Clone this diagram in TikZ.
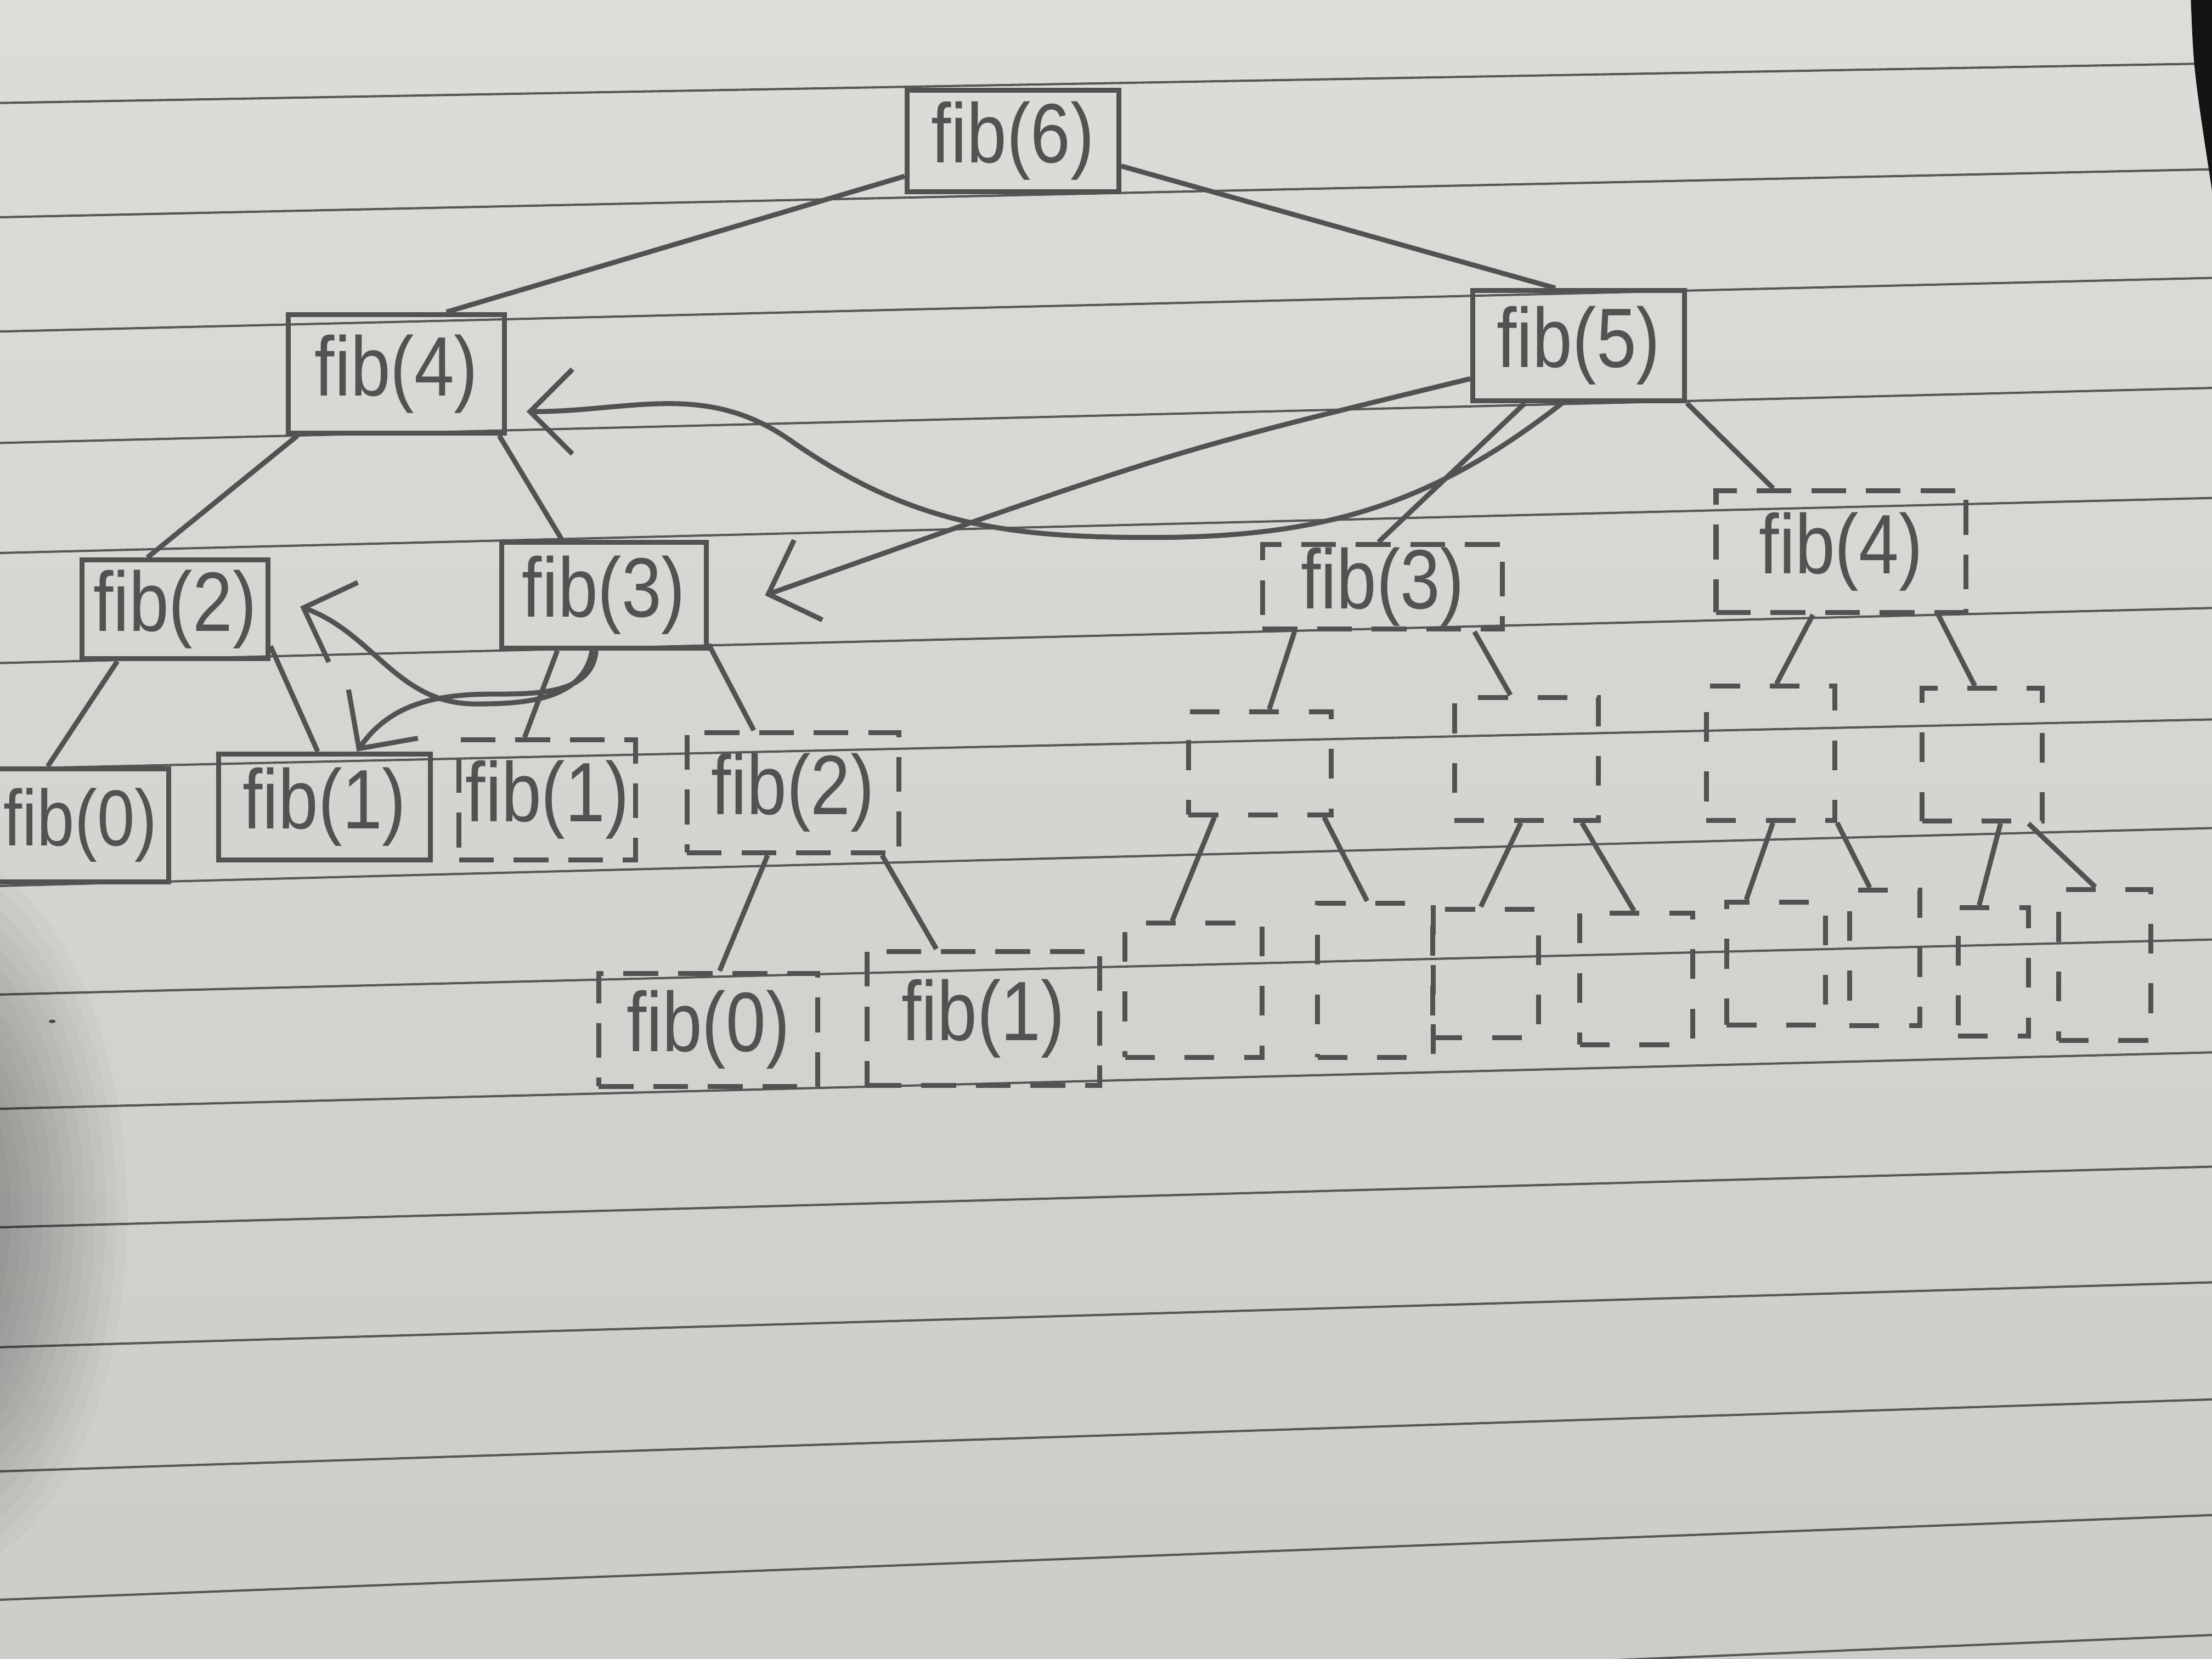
\documentclass[tikz,border=0pt]{standalone}
\usepackage{fontspec}
\setmainfont{Liberation Sans}[FakeStretch=0.85]
\usetikzlibrary{arrows.meta,calc}
\definecolor{papertop}{HTML}{DEDCD8}
\definecolor{paperbot}{HTML}{CECCC9}
\definecolor{rulecol}{HTML}{575757}
\definecolor{pencil}{HTML}{525252}
\tikzset{
  solidbox/.style={draw=pencil, line width=1pt, rectangle, inner sep=0pt, text=pencil,
    font=\fontsize{17}{19}\selectfont},
  dashbox/.style={solidbox, dash pattern=on 7pt off 4pt},
  emptybox/.style={draw=pencil, line width=1pt, rectangle, inner sep=0pt, dash pattern=on 6pt off 6pt},
  treeline/.style={draw=pencil, line width=1pt},
  callarrow/.style={draw=pencil, line width=1pt, -{Straight Barb[length=3mm,width=6mm,line width=1pt]}},
  ruled/.style={draw=rulecol, line width=0.45pt},
}
\begin{document}
\begin{tikzpicture}[x=0.01cm,y=-0.01cm]
\useasboundingbox (0,0) rectangle (1568,1176);
\begin{scope}
\clip (0,0) rectangle (1568,1176);
\shade[top color=papertop, bottom color=paperbot] (0,0) rectangle (1568,1176);
\foreach \l/\r in {73/45,154/120,235/197,314/275,392/353,470/431,545/510,628/587,705/666,786/746,870/827,955/909,1043/992,1134/1074,1225/1159}
  \draw[ruled] (0,\l) -- (1568,\r);
\fill[black!92] (1553,0) .. controls (1555,50) .. (1568,135) -- (1568,0) -- cycle;
\end{scope}

% solid boxes
\node[solidbox, minimum width=1.50cm, minimum height=0.72cm] (f6) at (718,100) {fib(6)};
\node[solidbox, minimum width=1.50cm, minimum height=0.78cm] (f5) at (1119,245) {fib(5)};
\node[solidbox, minimum width=1.53cm, minimum height=0.84cm] (f4) at (281,265) {fib(4)};
\node[solidbox, minimum width=1.32cm, minimum height=0.70cm] (f2a) at (124,432) {fib(2)};
\node[solidbox, minimum width=1.45cm, minimum height=0.75cm] (f3a) at (428,422) {fib(3)};
\node[solidbox, minimum width=1.25cm, minimum height=0.80cm, font=\fontsize{16}{18}\selectfont] (f0a) at (57,585) {fib(0)};
\node[solidbox, minimum width=1.50cm, minimum height=0.75cm] (f1a) at (230,572) {fib(1)};
% dashed boxes with text
\node[dashbox, minimum width=1.25cm, minimum height=0.85cm] (f1b) at (388,567) {fib(1)};
\node[dashbox, minimum width=1.50cm, minimum height=0.85cm] (f2b) at (562,562) {fib(2)};
\node[dashbox, minimum width=1.55cm, minimum height=0.80cm] (f0b) at (502,730) {fib(0)};
\node[dashbox, minimum width=1.65cm, minimum height=0.95cm] (f1c) at (697,722) {fib(1)};
\node[dashbox, minimum width=1.70cm, minimum height=0.60cm] (f3b) at (980,416) {fib(3)};
\node[dashbox, minimum width=1.77cm, minimum height=0.86cm] (f4b) at (1305,391) {fib(4)};
% empty dashed boxes
\node[emptybox, minimum width=1.01cm, minimum height=0.73cm] (B1) at (893,541) {};
\node[emptybox, minimum width=1.02cm, minimum height=0.87cm] (B2) at (1082,538) {};
\node[emptybox, minimum width=0.91cm, minimum height=0.95cm] (B3) at (1255,534) {};
\node[emptybox, minimum width=0.85cm, minimum height=0.94cm] (B4) at (1405,535) {};
\node[emptybox, minimum width=0.97cm, minimum height=0.95cm] (C1) at (846,702) {};
\node[emptybox, minimum width=0.82cm, minimum height=1.09cm] (C2) at (975,695) {};
\node[emptybox, minimum width=0.75cm, minimum height=0.91cm] (C3) at (1053,690) {};
\node[emptybox, minimum width=0.80cm, minimum height=0.93cm] (C4) at (1160,694) {};
\node[emptybox, minimum width=0.70cm, minimum height=0.87cm] (C5) at (1259,683) {};
\node[emptybox, minimum width=0.50cm, minimum height=0.96cm] (C6) at (1336,679) {};
\node[emptybox, minimum width=0.50cm, minimum height=0.91cm] (C7) at (1413,689) {};
\node[emptybox, minimum width=0.65cm, minimum height=1.07cm] (C8) at (1492,684) {};

% tree connectors
\draw[treeline] (f6.198) -- (f4.51);
\draw[treeline] (f6.-13) -- (f5.112);
\draw[treeline] (f5.227) -- (f3b.95);
\draw[treeline] (f5.south east) -- (f4b.137);
\draw[treeline] (f4.212) -- (f2a.118);
\draw[treeline] (f4.-31) -- (f3a.127);
\draw[treeline] (f2a.222) -- (f0a.119);
\draw[treeline] (f2a.-21) -- (f1a.97);
\draw[treeline] (f3a.230) -- (f1b.110);
\draw[treeline] (f3a.-25) -- (f2b.122);
\draw[treeline] (f2b.248) -- (f0b.79);
\draw[treeline] (f2b.-35) -- (f1c.124);
\draw[treeline] (f3b.207) -- (B1.80);
\draw[treeline] (f3b.-26) -- (B2.104);
\draw[treeline] (f4b.246) -- (B3.85);
\draw[treeline] (f4b.-33) -- (B4.96);
\draw[treeline] (B1.230) -- (C1.107);
\draw[treeline] (B1.-40) -- (C2.96);
\draw[treeline] (B2.265) -- (C3.94);
\draw[treeline] (B2.-49) -- (C4.92);
\draw[treeline] (B3.-88) -- (C5.115);
\draw[treeline] (B3.south east) -- (C6.102);
\draw[treeline] (B4.-75) -- (C7.102);
\draw[treeline] (B4.-56) -- (C8.97);

% curved call arrows
\coordinate (t1) at ($(f3a.east)+(40,0)$);
\coordinate (t2) at ($(f4.south east)+(14,-17)$);
\coordinate (t3) at ($(f2a.east)+(21,-2)$);
\coordinate (t4) at ($(f1a.north)+(23,0)$);
\draw[callarrow] (f5.197) .. controls (830,320) .. (t1);
\draw[callarrow] (f5.254) to[out=218,in=0] (815,381) to[out=180,in=-35] (560,312) to[out=145,in=0] (t2);
\draw[callarrow] (f3a.258) to[out=-100,in=0] (337,499) to[out=180,in=-20] (t3);
\draw[callarrow] (f3a.262) to[out=-95,in=0] (350,492) to[out=180,in=55] (t4);

% pencil speck
\fill[pencil] (37,724) ellipse [x radius=0.025cm, y radius=0.012cm];

% soft shadow at lower left
\begin{scope}
\clip (0,0) rectangle (1568,1176);
\foreach \k in {1,...,14}
  \fill[black, opacity=0.022] (-50,860) ellipse [x radius={0.35cm+0.075cm*\k}, y radius={0.9cm+0.12cm*\k}];
\end{scope}
\end{tikzpicture}
\end{document}
